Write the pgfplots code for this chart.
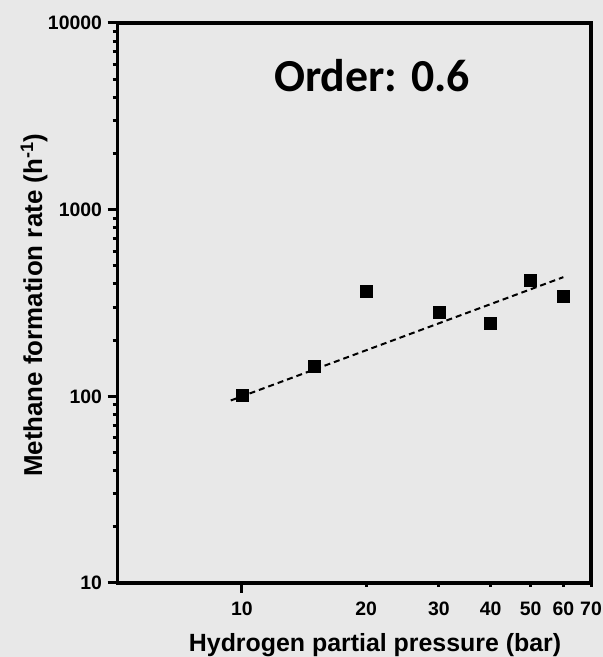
\documentclass[border=0pt]{standalone}
\usepackage{pgfplots}
\pgfplotsset{compat=1.18}
\usepackage{fontspec}
\setmainfont{Liberation Sans}
\newfontfamily\calibri{Carlito}
\usetikzlibrary{backgrounds}
\definecolor{bg}{RGB}{232,232,232}

\begin{document}
\begin{tikzpicture}
\begin{axis}[
  scale only axis,
  width=473.5bp, height=560bp,
  xmode=log, ymode=log,
  xmin=5, xmax=70, ymin=10, ymax=10000,
  xtick={10},
  xticklabels={10},
  extra x ticks={20,30,40,50,60,70},
  extra x tick labels={20,30,40,50,60,70},
  extra tick style={major tick length=4bp, xticklabel style={yshift=-6bp}},
  ytick={10,100,1000,10000},
  yticklabels={10,100,1000,10000},
  xminorticks=false,
  tick pos=left,
  tick align=outside,
  major tick length=10bp,
  minor tick length=5bp,
  tick style={black, line width=3bp},
  axis line style={line width=3.2bp},
  ticklabel style={font=\bfseries\fontsize{19.5}{20}\selectfont},
  xticklabel style={yshift=-5bp},
  yticklabel style={xshift=-2bp},
  xlabel={Hydrogen partial pressure (bar)},
  ylabel={Methane formation rate (h\textsuperscript{-1})},
  xlabel style={font=\bfseries\fontsize{25}{26}\selectfont,
    at={(rel axis cs:0.544,-0.123)}, anchor=base},
  ylabel style={font=\bfseries\fontsize{26}{27}\selectfont,
    at={(rel axis cs:-0.159,0.496)}, anchor=base, rotate=0},
  clip=false,
]
\addplot[only marks, mark=square*, mark size=6bp, black] coordinates {
  (10,101) (15,145) (20,364) (30,282) (40,245) (50,421) (60,343)
};
\addplot[black, line width=2bp, dash pattern=on 6bp off 4bp] coordinates {
  (9.4,95) (60,435)
};
\node[anchor=base, font=\calibri\bfseries\fontsize{46}{48}\selectfont]
  at (rel axis cs:0.5375,0.877) {Order: 0.6};
\coordinate (bl) at (rel axis cs:0,0);
\coordinate (tr) at (rel axis cs:1,1);
\end{axis}
\pgfresetboundingbox
\path[use as bounding box] ([shift={(-117.5bp,-74bp)}]bl) rectangle ([shift={(12bp,23bp)}]tr);
\begin{scope}[on background layer]
\fill[bg] ([shift={(-117.5bp,-74bp)}]bl) rectangle ([shift={(12bp,23bp)}]tr);
\end{scope}
\end{tikzpicture}
\end{document}
